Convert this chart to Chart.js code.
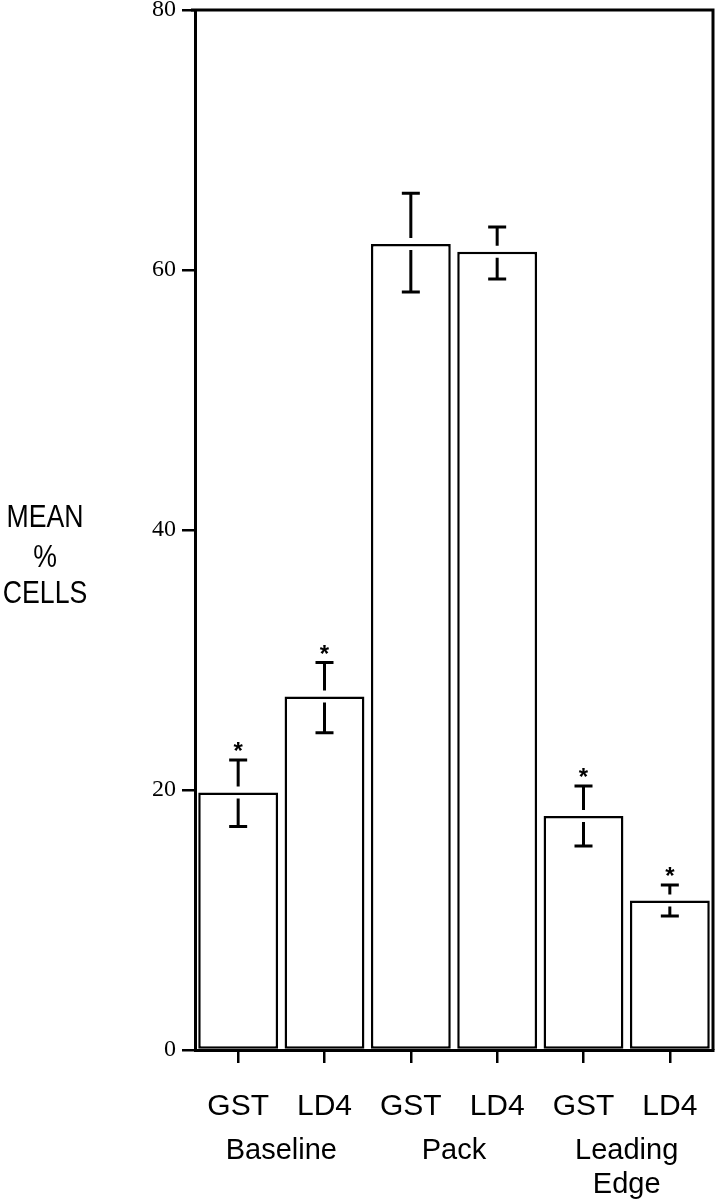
<!DOCTYPE html>
<html>
<head>
<meta charset="utf-8">
<script src="https://cdn.jsdelivr.net/npm/chart.js@4/dist/chart.umd.min.js"></script>
<style>
  html, body { margin: 0; padding: 0; background: #fff; }
  #c { display: block; }
</style>
</head>
<body>
<canvas id="c" width="718" height="1200"></canvas>
<script>
// ---- data ----
const categories = ['GST', 'LD4', 'GST', 'LD4', 'GST', 'LD4'];
const groups = ['Baseline', 'Pack', ['Leading', 'Edge']];
const means   = [19.8, 27.2, 62.0, 61.4, 18.0, 11.5];
const errHigh = [22.3, 29.8, 65.9, 63.3, 20.3, 12.7];
const errLow  = [17.2, 24.4, 58.3, 59.3, 15.7, 10.3];
const significant = [true, true, false, false, true, true];
const yTicks = [0, 20, 40, 60, 80];
const yTitle = ['MEAN', '%', 'CELLS'];

const SANS = '"Liberation Sans", Arial, Helvetica, sans-serif';
const SERIF = '"Liberation Serif", "Times New Roman", serif';

const framePlugin = {
  id: 'frame',
  afterDraw(chart) {
    const { ctx, chartArea: a } = chart;
    ctx.save();
    ctx.strokeStyle = '#000';
    ctx.lineWidth = 3;
    ctx.beginPath();
    ctx.moveTo(a.left - 4, a.top);
    ctx.lineTo(a.right, a.top);
    ctx.lineTo(a.right, a.bottom);
    ctx.stroke();
    ctx.restore();
  }
};

const errorPlugin = {
  id: 'errbars',
  afterDatasetsDraw(chart) {
    const { ctx } = chart;
    const ys = chart.scales.y;
    const meta = chart.getDatasetMeta(0);
    ctx.save();
    ctx.strokeStyle = '#000';
    ctx.fillStyle = '#000';
    ctx.lineWidth = 3;
    const gap = 6, cap = 9;
    meta.data.forEach((bar, i) => {
      const x = bar.x;
      const yv = ys.getPixelForValue(means[i]);
      const yh = ys.getPixelForValue(errHigh[i]);
      const yl = ys.getPixelForValue(errLow[i]);
      ctx.beginPath();
      ctx.moveTo(x, yh); ctx.lineTo(x, yv - gap);
      ctx.moveTo(x, yv + gap); ctx.lineTo(x, yl);
      ctx.moveTo(x - cap, yh); ctx.lineTo(x + cap, yh);
      ctx.moveTo(x - cap, yl); ctx.lineTo(x + cap, yl);
      ctx.stroke();
      if (significant[i]) {
        ctx.font = 'bold 24px ' + SANS;
        ctx.textAlign = 'center';
        ctx.textBaseline = 'alphabetic';
        ctx.fillText('*', x, yh - 1);
      }
    });
    ctx.restore();
  }
};

const yTitlePlugin = {
  id: 'ytitle',
  afterDraw(chart) {
    const { ctx, chartArea: a } = chart;
    const mid = (a.top + a.bottom) / 2;
    const baselines = [mid - 3, mid + 37, mid + 73];
    ctx.save();
    ctx.fillStyle = '#000';
    ctx.font = '31px ' + SANS;
    ctx.textAlign = 'center';
    ctx.textBaseline = 'alphabetic';
    ctx.translate(45, 0);
    ctx.scale(0.86, 1);
    yTitle.forEach((t, i) => ctx.fillText(t, 0, baselines[i]));
    ctx.restore();
  }
};

new Chart(document.getElementById('c'), {
  type: 'bar',
  data: {
    labels: categories,
    datasets: [{
      data: means,
      backgroundColor: '#fff',
      borderColor: '#000',
      borderWidth: 2.5,
      borderSkipped: false,
      categoryPercentage: 1.0,
      barPercentage: 0.925
    }]
  },
  options: {
    responsive: false,
    animation: false,
    devicePixelRatio: 1,
    layout: { padding: { left: 0, right: 5, top: 10, bottom: 0 } },
    plugins: { legend: { display: false }, tooltip: { enabled: false } },
    scales: {
      y: {
        min: 0, max: 80,
        afterBuildTicks(s) { s.ticks = yTicks.map(v => ({ value: v })); },
        afterFit(s) { s.width = 195; s.paddingTop = 0; s.paddingBottom = 0; },
        border: { display: true, color: '#000', width: 3 },
        grid: { display: true, drawOnChartArea: false, drawTicks: true, tickLength: 13, color: '#000', lineWidth: 2.5 },
        ticks: { color: '#000', font: { family: SERIF, size: 24 }, padding: 6 }
      },
      x: {
        position: 'bottom',
        afterFit(s) { s.height = 80; s.paddingLeft = 0; s.paddingRight = 0; },
        border: { display: true, color: '#000', width: 3 },
        grid: { display: true, offset: false, drawOnChartArea: false, drawTicks: true, tickLength: 13, color: '#000', lineWidth: 2.5 },
        ticks: { color: '#000', font: { family: SANS, size: 30 }, padding: 26, maxRotation: 0, autoSkip: false }
      },
      x2: {
        type: 'category',
        position: 'bottom',
        labels: groups,
        offset: true,
        afterFit(s) { s.height = 70; s.paddingLeft = 0; s.paddingRight = 0; },
        border: { display: false },
        grid: { display: false, drawTicks: false },
        ticks: { color: '#000', font: { family: SANS, size: 29, lineHeight: 1.17 }, padding: 4, maxRotation: 0, autoSkip: false }
      }
    }
  },
  plugins: [framePlugin, errorPlugin, yTitlePlugin]
});
</script>
</body>
</html>
